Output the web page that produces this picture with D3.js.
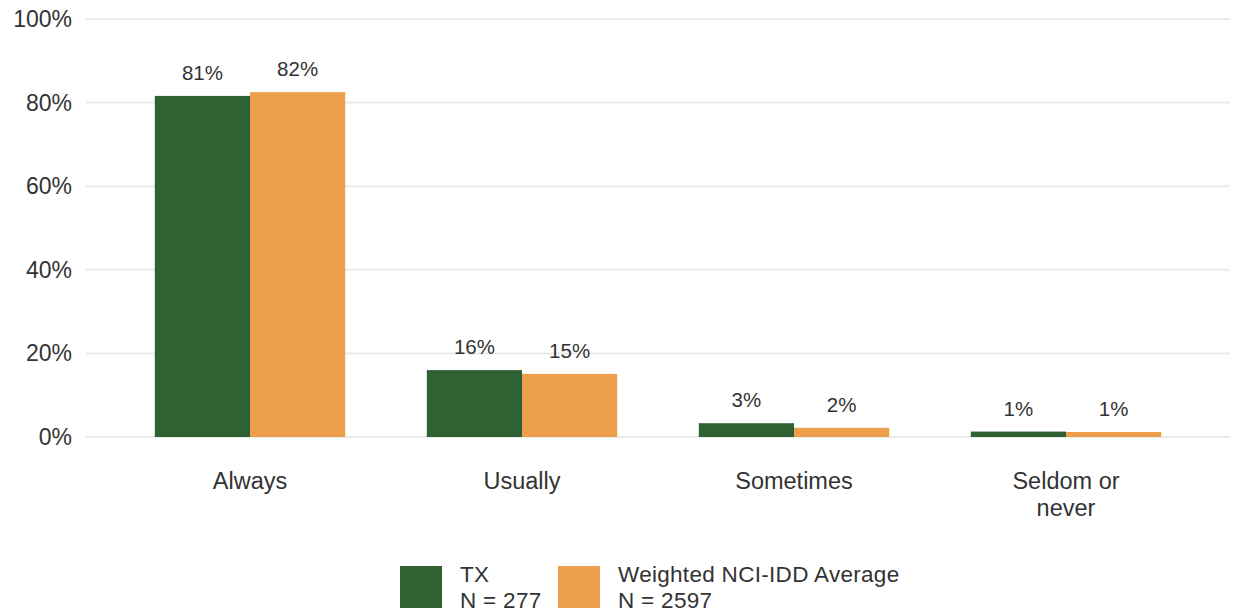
<!DOCTYPE html>
<html>
<head>
<meta charset="utf-8">
<script src="https://cdn.jsdelivr.net/npm/d3@7"></script>
<style>
  body { margin: 0; background: #fff; }
  text { font-family: "Liberation Sans", Arial, sans-serif; fill: #333; }
</style>
</head>
<body>
<div id="chart"></div>
<script>
const categories = ["Always", "Usually", "Sometimes", "Seldom or never"];
const seriesNames = ["TX", "Weighted NCI-IDD Average"];
const seriesN = ["N = 277", "N = 2597"];
const txValues = [81.6, 16.0, 3.3, 1.3];
const nciValues = [82.5, 15.1, 2.2, 1.2];
const valueLabels = [["81%", "16%", "3%", "1%"], ["82%", "15%", "2%", "1%"]];
const yTicks = [0, 20, 40, 60, 80, 100];

const width = 1235, height = 614;
const colors = ["#2f6132", "#eca04b"];

const svg = d3.select("#chart").append("svg")
    .attr("width", width)
    .attr("height", height);

const x = d3.scaleBand()
    .domain(categories)
    .range([114, 1202])
    .paddingInner(0.3)
    .paddingOuter(0.15);

const xSub = d3.scaleBand()
    .domain(seriesNames)
    .range([0, x.bandwidth()]);

const y = d3.scaleLinear()
    .domain([0, 100])
    .range([437, 19]);

// gridlines
svg.append("g")
    .selectAll("line")
    .data(yTicks)
    .join("line")
    .attr("x1", 86)
    .attr("x2", 1230)
    .attr("y1", d => y(d))
    .attr("y2", d => y(d))
    .attr("stroke", "#ebebeb")
    .attr("stroke-width", 2);

// y tick labels
svg.append("g")
    .selectAll("text")
    .data(yTicks)
    .join("text")
    .attr("x", 72)
    .attr("y", d => y(d))
    .attr("dy", "0.35em")
    .attr("text-anchor", "end")
    .style("font-size", "23px")
    .text(d => d + "%");

const seriesData = [txValues, nciValues];

seriesData.forEach((vals, si) => {
    const g = svg.append("g");
    g.selectAll("rect")
        .data(vals)
        .join("rect")
        .attr("x", (d, i) => x(categories[i]) + xSub(seriesNames[si]))
        .attr("y", d => y(d))
        .attr("width", xSub.bandwidth())
        .attr("height", d => y(0) - y(d))
        .attr("fill", colors[si]);

    g.selectAll("text")
        .data(vals)
        .join("text")
        .attr("x", (d, i) => x(categories[i]) + xSub(seriesNames[si]) + xSub.bandwidth() / 2)
        .attr("y", d => y(d) - 16)
        .attr("text-anchor", "middle")
        .style("font-size", "20.5px")
        .text((d, i) => valueLabels[si][i]);
});

// x category labels (wrap "Seldom or never")
const xLabels = svg.append("g");
categories.forEach(c => {
    const lines = c === "Seldom or never" ? ["Seldom or", "never"] : [c];
    const t = xLabels.append("text")
        .attr("x", x(c) + x.bandwidth() / 2)
        .attr("y", 489)
        .attr("text-anchor", "middle")
        .style("font-size", "23.5px");
    lines.forEach((l, i) => {
        t.append("tspan")
            .attr("x", x(c) + x.bandwidth() / 2)
            .attr("dy", i === 0 ? 0 : 27)
            .text(l);
    });
});

// legend
const legendX = [400, 558];
const legend = svg.append("g");
seriesNames.forEach((s, i) => {
    const lg = legend.append("g").attr("transform", `translate(${legendX[i]}, 566)`);
    lg.append("rect")
        .attr("width", 42)
        .attr("height", 42)
        .attr("fill", colors[i]);
    lg.append("text")
        .attr("x", 60)
        .attr("y", 16)
        .style("font-size", "22.5px")
        .style("letter-spacing", "0.3px")
        .text(s);
    lg.append("text")
        .attr("x", 60)
        .attr("y", 42)
        .style("font-size", "22.5px")
        .style("letter-spacing", "0.3px")
        .text(seriesN[i]);
});
</script>
</body>
</html>
